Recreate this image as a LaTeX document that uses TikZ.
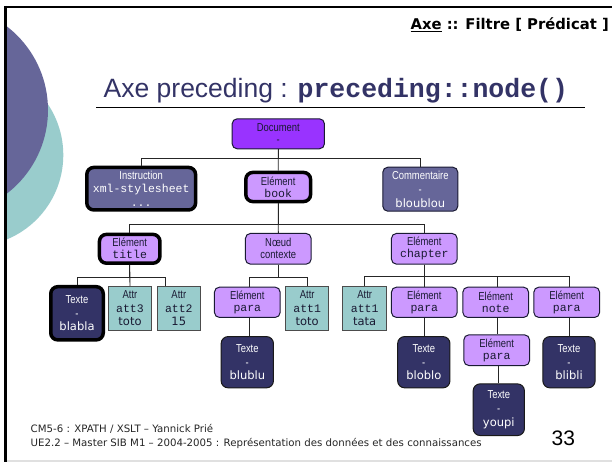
\documentclass[tikz,border=0pt]{standalone}
\usepackage{fontspec}
\setmainfont{Liberation Sans}
\setmonofont{Liberation Mono}
\newfontfamily\narrowsans[FakeStretch=0.82]{Liberation Sans}
\newfontfamily\widesans{DejaVu Sans}

\definecolor{titleblue}{HTML}{333366}
\definecolor{slate}{HTML}{666699}
\definecolor{navy}{HTML}{333366}
\definecolor{docpurple}{HTML}{9933FF}
\definecolor{lilac}{HTML}{CC99FF}
\definecolor{aqua}{HTML}{99CCCC}
\definecolor{inkdark}{HTML}{1A1A33}

\tikzset{
  box/.style={draw=inkdark, line width=1pt, rounded corners=5pt, align=center,
    inner sep=0pt, text=inkdark},
  heavy/.style={draw=black, line width=3.5pt, rounded corners=7pt},
  two/.style={font=\fontsize{11.5}{12}\selectfont},
  three/.style={font=\fontsize{11.5}{13.8}\selectfont},
  elembox/.style={box, two, fill=lilac},
  textbox/.style={box, three, fill=navy, text=white, rounded corners=7pt,
    draw=black!90},
  attrbox/.style={box, three, fill=aqua, rounded corners=0pt, draw=black!70,
    minimum width=43.5pt, minimum height=43.7pt},
  conn/.style={draw=black!85, line width=0.9pt},
}

\begin{document}
\begin{tikzpicture}[x=1pt, y=-1pt]
\useasboundingbox (0,0) rectangle (612,462);
\fill[white] (0,0) rectangle (612,462);

% decorative discs on the left edge
\begin{scope}
  \clip (5,7) rectangle (612,462);
  \fill[aqua] (-28,155) circle (91.3);
  \fill[slate] (-57.5,110) circle (105.5);
\end{scope}

% slide frame
\draw[black, line width=2.6pt] (4,7) -- (612,7);
\draw[black, line width=3pt] (5.5,5.8) -- (5.5,462);
\draw[black!12, line width=1.5pt] (7,461.2) -- (612,461.2);

% header and title
\node[anchor=base east, inner sep=0pt] (hdr) at (609,30)
  {\widesans\bfseries\fontsize{14.8}{18}\selectfont \underline{Axe} :: Filtre [ Prédicat ]};
\node[anchor=base west, inner sep=0pt, text=titleblue] (heading) at (103.5,98)
  {\fontsize{26.5}{30}\selectfont Axe preceding : {\ttfamily\bfseries preceding::node()}};
\draw[line width=0.9pt] (96,107.5) -- (585,107.5);

% level 0
\node[box, two, fill=docpurple, minimum width=92.3pt, minimum height=30pt] (doc)
  at (278.3,133.8) {\narrowsans Document\\\narrowsans -};

% level 1
\node[box, heavy, three, fill=slate, text=white, minimum width=108.8pt, minimum height=42.5pt]
  (instr) at (141.2,188.7)
  {\narrowsans Instruction\\\ttfamily xml-stylesheet\\\ttfamily ...};
\node[elembox, heavy, minimum width=64.8pt, minimum height=29.1pt] (book) at (278.2,187)
  {\narrowsans Elément\\\ttfamily book};
\node[box, three, fill=slate, text=white, minimum width=75pt, minimum height=44pt]
  (comment) at (420.3,189.2)
  {\narrowsans Commentaire\\\narrowsans -\\\widesans bloublou};

% level 2
\node[elembox, heavy, minimum width=60.5pt, minimum height=28.8pt] (eTitle) at (129.7,248.8)
  {\narrowsans Elément\\\ttfamily title};
\node[elembox, minimum width=65.7pt, minimum height=30.7pt] (ctx) at (278.3,248.8)
  {\narrowsans Nœud\\\narrowsans contexte};
\node[elembox, minimum width=65.7pt, minimum height=30.7pt] (chap) at (424.3,248.8)
  {\narrowsans Elément\\\ttfamily chapter};

% level 3
\node[textbox, heavy, minimum width=52.5pt, minimum height=53.2pt] (blabla) at (77,313.3)
  {\narrowsans Texte\\\narrowsans -\\\widesans blabla};
\node[attrbox] (att3) at (130,308.3) {\narrowsans Attr\\\ttfamily att3\\\widesans toto};
\node[attrbox] (att2) at (178.8,308.3) {\narrowsans Attr\\\ttfamily att2\\\widesans 15};
\node[elembox, minimum width=65.7pt, minimum height=30.3pt] (paraA) at (247.3,302.3)
  {\narrowsans Elément\\\ttfamily para};
\node[attrbox] (attA) at (307.2,308.3) {\narrowsans Attr\\\ttfamily att1\\\widesans toto};
\node[attrbox] (attB) at (364.7,308.3) {\narrowsans Attr\\\ttfamily att1\\\widesans tata};
\node[elembox, minimum width=65.7pt, minimum height=30.3pt] (paraB) at (424.3,302.3)
  {\narrowsans Elément\\\ttfamily para};
\node[elembox, minimum width=65.7pt, minimum height=30.3pt] (note) at (495.7,302.3)
  {\narrowsans Elément\\\ttfamily note};
\node[elembox, minimum width=65.7pt, minimum height=30.3pt] (paraC) at (566.7,302.3)
  {\narrowsans Elément\\\ttfamily para};

% level 4 and 5
\node[textbox, minimum width=52.3pt, minimum height=51.3pt] (blublu) at (247.3,362.2)
  {\narrowsans Texte\\\narrowsans -\\\widesans blublu};
\node[textbox, minimum width=52.3pt, minimum height=51.3pt] (bloblo) at (423.8,362.2)
  {\narrowsans Texte\\\narrowsans -\\\widesans bloblo};
\node[elembox, minimum width=65.7pt, minimum height=30.7pt] (paraN) at (496.7,350.2)
  {\narrowsans Elément\\\ttfamily para};
\node[textbox, minimum width=51.3pt, minimum height=51.7pt] (youpi) at (498.8,409.7)
  {\narrowsans Texte\\\narrowsans -\\\widesans youpi};
\node[textbox, minimum width=52.3pt, minimum height=51.3pt] (blibli) at (569,362.2)
  {\narrowsans Texte\\\narrowsans -\\\widesans blibli};

% bus levels of the tree
\coordinate (busA) at (0,158.3);
\coordinate (busB) at (0,224.3);
\coordinate (busC) at (0,277.7);
\coordinate (busD) at (0,276);

% connectors
\draw[conn] (doc.south) -- (book.north);
\draw[conn] (doc.south) |- (instr.north |- busA) -- (instr.north);
\draw[conn] (doc.south) |- (comment.north |- busA) -- (comment.north);

\draw[conn] (book.south) -- (ctx.north);
\draw[conn] (book.south) |- (eTitle.north |- busB) -- (eTitle.north);
\draw[conn] (book.south) |- (chap.north |- busB) -- (chap.north);

\draw[conn] (eTitle.south) -- (att3.north);
\draw[conn] (eTitle.south) |- (blabla.north |- busC) -- (blabla.north);
\draw[conn] (eTitle.south) |- ([xshift=-13pt]att2.north |- busC) -- ([xshift=-13pt]att2.north);

\draw[conn] (ctx.south) |- ([xshift=2pt]paraA.north |- busC) -- ([xshift=2pt]paraA.north);
\draw[conn] (ctx.south) |- (attA.north |- busC) -- (attA.north);

\draw[conn] (chap.south) -- (paraB.north);
\draw[conn] (chap.south) |- (attB.north |- busD) -- (attB.north);
\draw[conn] (chap.south) |- ([xshift=2pt]note.north |- busD) -- ([xshift=2pt]note.north);
\draw[conn] (chap.south) |- ([xshift=2.6pt]paraC.north |- busD) -- ([xshift=2.6pt]paraC.north);

\draw[conn] ([xshift=2pt]paraA.south) -- ([xshift=2pt]paraA.south |- blublu.north);
\draw[conn] (paraB.south) -- (paraB.south |- bloblo.north);
\draw[conn] ([xshift=2pt]note.south) -- ([xshift=2pt]note.south |- paraN.north);
\draw[conn] ([xshift=1.5pt]paraN.south) -- ([xshift=1.5pt]paraN.south |- youpi.north);
\draw[conn] ([xshift=2.6pt]paraC.south) -- ([xshift=2.6pt]paraC.south |- blibli.north);

% footer
\node[anchor=base west, inner sep=0pt, text=black!85] (footA) at (30.5,432)
  {\widesans\fontsize{10.2}{12}\selectfont CM5-6 : XPATH / XSLT – Yannick Prié};
\node[anchor=base west, inner sep=0pt, text=black!85] (footB) at (30.5,446)
  {\widesans\fontsize{10.2}{12}\selectfont UE2.2 – Master SIB M1 – 2004-2005 : Représentation des données et des connaissances};
\node[anchor=base west, inner sep=0pt] (pageno) at (551.5,445)
  {\fontsize{21}{24}\selectfont 33};
\end{tikzpicture}
\end{document}
